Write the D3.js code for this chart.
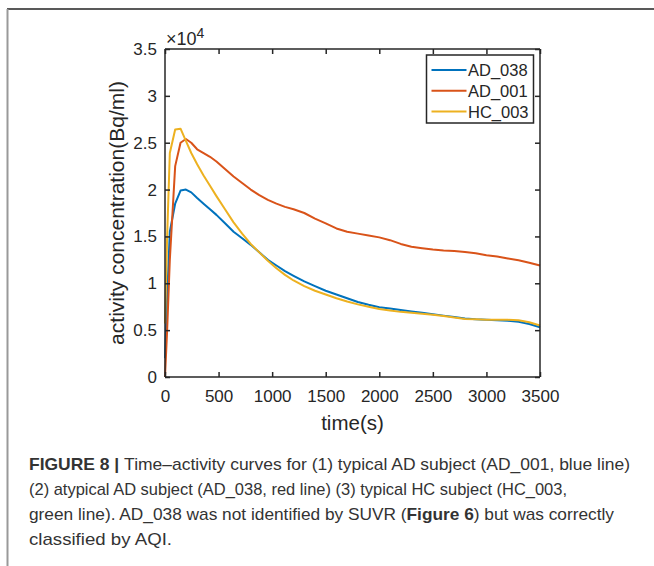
<!DOCTYPE html>
<html>
<head>
<meta charset="utf-8">
<script src="https://d3js.org/d3.v7.min.js"></script>
<style>
  html, body { margin: 0; padding: 0; background: #fff; }
  svg { display: block; }
</style>
</head>
<body>
<svg id="chart" width="654" height="566"></svg>
<script>
// ---- data (values in units of 1e4 Bq/ml) ----
const times = [0, 20, 45, 95, 145, 195, 245, 300, 360, 420, 480, 560, 640, 720, 800, 880, 960, 1040, 1120, 1200, 1300, 1400, 1500, 1600, 1700, 1800, 1900, 2000, 2100, 2200, 2300, 2400, 2500, 2600, 2700, 2800, 2900, 3000, 3100, 3200, 3300, 3400, 3500];
const seriesNames = ["AD_038", "AD_001", "HC_003"];
const ad038 = [0.20, 0.85, 1.55, 1.85, 1.99, 2.00, 1.97, 1.91, 1.85, 1.79, 1.73, 1.64, 1.55, 1.48, 1.41, 1.33, 1.25, 1.19, 1.13, 1.08, 1.02, 0.97, 0.92, 0.88, 0.84, 0.80, 0.77, 0.745, 0.73, 0.715, 0.70, 0.685, 0.67, 0.655, 0.64, 0.625, 0.615, 0.61, 0.605, 0.60, 0.59, 0.565, 0.53];
const ad001 = [0.00, 0.50, 1.25, 2.25, 2.50, 2.54, 2.50, 2.43, 2.39, 2.35, 2.30, 2.22, 2.14, 2.07, 2.00, 1.94, 1.89, 1.85, 1.815, 1.79, 1.75, 1.69, 1.64, 1.585, 1.55, 1.53, 1.51, 1.49, 1.46, 1.42, 1.39, 1.375, 1.36, 1.35, 1.345, 1.335, 1.32, 1.30, 1.285, 1.265, 1.245, 1.22, 1.19];
const hc003 = [0.57, 1.50, 2.39, 2.64, 2.65, 2.52, 2.39, 2.27, 2.15, 2.04, 1.93, 1.79, 1.65, 1.53, 1.42, 1.33, 1.24, 1.16, 1.09, 1.03, 0.97, 0.92, 0.88, 0.84, 0.805, 0.775, 0.75, 0.725, 0.71, 0.695, 0.685, 0.675, 0.665, 0.65, 0.635, 0.62, 0.615, 0.61, 0.61, 0.61, 0.605, 0.585, 0.55];
const colors = ["#0072BD", "#D95319", "#EDB120"];
const xTicks = [0, 500, 1000, 1500, 2000, 2500, 3000, 3500];
const yTicks = [0, 0.5, 1, 1.5, 2, 2.5, 3, 3.5];
const yTickLabels = ["0", "0.5", "1", "1.5", "2", "2.5", "3", "3.5"];
const captionLines = [
  [["FIGURE 8 | ", true], ["Time–activity curves for (1) typical AD subject (AD_001, blue line)", false]],
  [["(2) atypical AD subject (AD_038, red line) (3) typical HC subject (HC_003,", false]],
  [["green line). AD_038 was not identified by SUVR (", false], ["Figure 6", true], [") but was correctly", false]],
  [["classified by AQI.", false]]
];
const captionWidths = [601, 538, 585, 143];

// ---- drawing ----
const svg = d3.select("#chart");
const ink = "#262626";
const font = "'Liberation Sans', Arial, sans-serif";

// figure frame
svg.append("line").attr("x1", 7).attr("x2", 654).attr("y1", 9).attr("y2", 9)
  .attr("stroke", "#222").attr("stroke-width", 1.5);
svg.append("line").attr("x1", 7.5).attr("x2", 7.5).attr("y1", 9).attr("y2", 566)
  .attr("stroke", "#999").attr("stroke-width", 2);

const L = 165, R = 540, T = 49, B = 377;
const x = d3.scaleLinear().domain([0, 3500]).range([L, R]);
const y = d3.scaleLinear().domain([0, 3.5]).range([B, T]);

const g = svg.append("g");

// lines
const allSeries = [ad038, ad001, hc003];
const line = d3.line().x((d, i) => x(times[i])).y(d => y(d)).curve(d3.curveLinear);
allSeries.forEach((s, k) => {
  g.append("path").datum(s).attr("d", line)
    .attr("fill", "none").attr("stroke", colors[k]).attr("stroke-width", 2)
    .attr("stroke-linejoin", "round");
});

// axes (ticks inward)
const tl = 5;
const axB = d3.axisBottom(x).tickValues(xTicks).tickSize(-tl).tickPadding(tl + 8).tickFormat(d3.format("d"));
const axT = d3.axisTop(x).tickValues(xTicks).tickSize(-tl).tickFormat("");
const axL = d3.axisLeft(y).tickValues(yTicks).tickSize(-tl).tickPadding(tl + 3).tickFormat((d, i) => yTickLabels[i]);
const axR = d3.axisRight(y).tickValues(yTicks).tickSize(-tl).tickFormat("");

function styleAxis(sel) {
  sel.select(".domain").attr("stroke", ink).attr("stroke-width", 1.5);
  sel.selectAll(".tick line").attr("stroke", ink).attr("stroke-width", 1.5);
  sel.selectAll(".tick text").attr("fill", ink).style("font-family", font).style("font-size", "17px");
}
const gb = svg.append("g").attr("transform", `translate(0,${B})`).call(axB).call(styleAxis);
gb.select(".domain").attr("d", `M${L},0H${R}`);
const gt = svg.append("g").attr("transform", `translate(0,${T})`).call(axT).call(styleAxis);
gt.select(".domain").attr("d", `M${L},0H${R}`);
const gl = svg.append("g").attr("transform", `translate(${L},0)`).call(axL).call(styleAxis);
gl.select(".domain").attr("d", `M0,${B}V${T}`);
const gr = svg.append("g").attr("transform", `translate(${R},0)`).call(axR).call(styleAxis);
gr.select(".domain").attr("d", `M0,${B}V${T}`);

// exponent label
const ex = svg.append("text").attr("x", 166).attr("y", 45).attr("fill", ink)
  .style("font-family", font).style("font-size", "18px");
ex.append("tspan").text("×10");
ex.append("tspan").attr("dy", -7).style("font-size", "14px").text("4");

// axis titles
svg.append("text").attr("x", (L + R) / 2).attr("y", 430).attr("text-anchor", "middle")
  .attr("fill", ink).style("font-family", font).style("font-size", "20.5px").text("time(s)");
svg.append("text").attr("transform", `translate(124,${(T + B) / 2}) rotate(-90)`)
  .attr("text-anchor", "middle").attr("fill", ink)
  .style("font-family", font).style("font-size", "21px").text("activity concentration(Bq/ml)");

// legend
const lg = svg.append("g");
lg.append("rect").attr("x", 426.5).attr("y", 55).attr("width", 107).attr("height", 68)
  .attr("fill", "#fff").attr("stroke", ink).attr("stroke-width", 1.5);
seriesNames.forEach((n, k) => {
  const yy = 70 + k * 20.8;
  lg.append("line").attr("x1", 431.5).attr("x2", 466.5).attr("y1", yy).attr("y2", yy)
    .attr("stroke", colors[k]).attr("stroke-width", 2);
  lg.append("text").attr("x", 468).attr("y", yy + 6).attr("fill", ink)
    .style("font-family", font).style("font-size", "16.5px").text(n);
});

// caption
captionLines.forEach((parts, i) => {
  const t = svg.append("text").attr("x", 29).attr("y", 470 + i * 25)
    .attr("fill", "#333").style("font-family", font).style("font-size", "17px")
    .attr("textLength", captionWidths[i]).attr("lengthAdjust", "spacingAndGlyphs");
  parts.forEach(([s, b]) => {
    t.append("tspan").attr("font-weight", b ? "bold" : "normal").text(s);
  });
});
</script>
</body>
</html>
